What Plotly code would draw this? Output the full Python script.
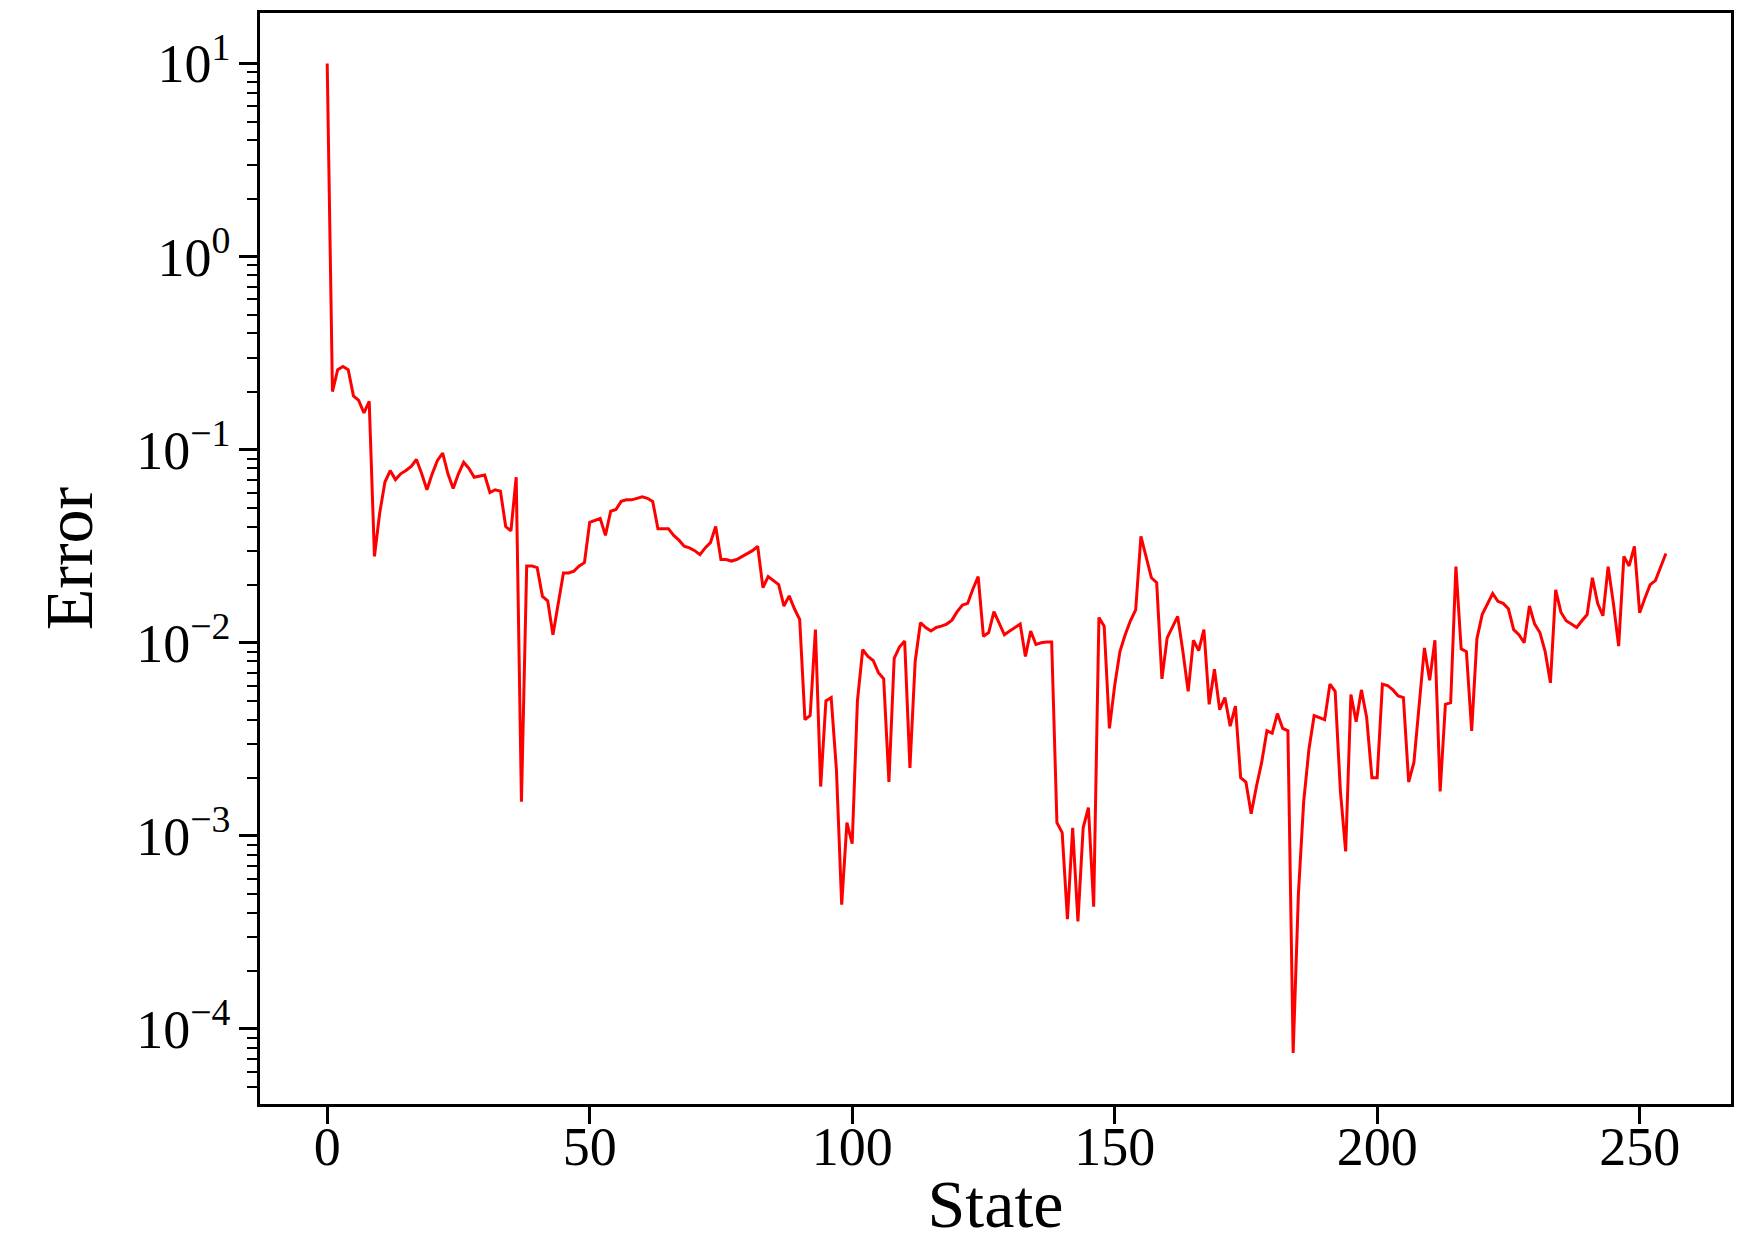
import plotly.graph_objects as go

states = list(range(256))
errors = [
    10, 0.2, 0.26, 0.27, 0.26, 0.19, 0.18, 0.155, 0.178, 0.028,
    0.047, 0.068, 0.078, 0.07, 0.075, 0.078, 0.082, 0.089, 0.075, 0.062,
    0.075, 0.088, 0.096, 0.075, 0.063, 0.075, 0.086, 0.08, 0.072, 0.073,
    0.074, 0.06, 0.062, 0.061, 0.040, 0.038, 0.072, 0.0015, 0.025, 0.025,
    0.0245, 0.0174, 0.0165, 0.011, 0.016, 0.023, 0.023, 0.0235, 0.025, 0.026,
    0.042, 0.043, 0.044, 0.036, 0.048, 0.049, 0.054, 0.055, 0.055, 0.056,
    0.057, 0.056, 0.054, 0.039, 0.039, 0.039, 0.036, 0.034, 0.0316, 0.031,
    0.030, 0.0286, 0.031, 0.033, 0.040, 0.027, 0.027, 0.0265, 0.027, 0.028,
    0.029, 0.030, 0.0316, 0.0193, 0.022, 0.021, 0.020, 0.0155, 0.0175, 0.0150,
    0.0132, 0.004, 0.0042, 0.0117, 0.0018, 0.005, 0.0052, 0.0022, 0.00044, 0.00117,
    0.00091, 0.005, 0.0092, 0.0085, 0.0081, 0.007, 0.0065, 0.0019, 0.0083, 0.0095,
    0.0102, 0.00225, 0.008, 0.0127, 0.012, 0.0115, 0.012, 0.0122, 0.0125, 0.0131,
    0.0145, 0.0157, 0.016, 0.019, 0.022, 0.0108, 0.0113, 0.0145, 0.0125, 0.011,
    0.0115, 0.012, 0.0125, 0.0085, 0.0115, 0.0098, 0.0100, 0.0101, 0.0101, 0.00117,
    0.00104, 0.00037, 0.0011, 0.00036, 0.0011, 0.0014, 0.00043, 0.0135, 0.0122, 0.0036,
    0.006, 0.009, 0.011, 0.013, 0.0148, 0.0356, 0.028, 0.0217, 0.0205, 0.0065,
    0.0106, 0.012, 0.0137, 0.009, 0.0056, 0.0103, 0.0091, 0.0117, 0.0048, 0.0073,
    0.0045, 0.0052, 0.0037, 0.0047, 0.002, 0.0019, 0.0013, 0.0018, 0.0024, 0.0035,
    0.0034, 0.0043, 0.0036, 0.0035, 0.000075, 0.0005, 0.0015, 0.0028, 0.0042, 0.0041,
    0.004, 0.0061, 0.0056, 0.0017, 0.00083, 0.0054, 0.0039, 0.0057, 0.0041, 0.002,
    0.002, 0.0061, 0.006, 0.0057, 0.0053, 0.0052, 0.0019, 0.0024, 0.005, 0.0094,
    0.0064, 0.0103, 0.0017, 0.0048, 0.0049, 0.0248, 0.0093, 0.009, 0.0035, 0.0105,
    0.014, 0.016, 0.018, 0.0164, 0.016, 0.015, 0.0117, 0.011, 0.010, 0.0155,
    0.0125, 0.0113, 0.009, 0.0062, 0.0188, 0.0144, 0.013, 0.0125, 0.012, 0.013,
    0.014, 0.0217, 0.016, 0.0138, 0.0248, 0.016, 0.0096, 0.028, 0.025, 0.0316,
    0.0143, 0.017, 0.02, 0.021, 0.025, 0.029,
]

x_ticks = [0, 50, 100, 150, 200, 250]
y_ticks = [10, 1, 0.1, 0.01, 0.001, 0.0001]
y_tick_text = ["10<sup>1</sup>", "10<sup>0</sup>", "10<sup>\u22121</sup>",
               "10<sup>\u22122</sup>", "10<sup>\u22123</sup>", "10<sup>\u22124</sup>"]

FONT = "Liberation Serif, Times New Roman, serif"

fig = go.Figure()
fig.add_trace(go.Scatter(x=states, y=errors, mode="lines",
                         line=dict(color="#ff0000", width=3),
                         showlegend=False))

fig.update_layout(
    width=1757, height=1244,
    margin=dict(l=260, r=26, t=13, b=140),
    paper_bgcolor="white", plot_bgcolor="white",
    font=dict(family=FONT, color="black", size=52),
)
fig.update_xaxes(
    range=[-12.8, 267.4], automargin=False,
    tickvals=x_ticks, ticktext=[str(v) for v in x_ticks],
    ticks="outside", ticklen=17, tickwidth=2.5, tickcolor="black",
    ticklabelstandoff=-24,
    showline=True, linecolor="black", linewidth=2.7, mirror=True,
    showgrid=False, zeroline=False,
    tickfont=dict(family=FONT, size=54),
    title=dict(text="State", font=dict(family=FONT, size=68), standoff=4),
)
fig.update_yaxes(
    type="log", range=[-4.389, 1.262], automargin=False,
    tickvals=y_ticks, ticktext=y_tick_text,
    ticks="outside", ticklen=18, tickwidth=2.5, tickcolor="black",
    ticklabelstandoff=-2,
    minor=dict(ticks="outside", ticklen=10, tickwidth=1.8, tickcolor="black",
               showgrid=False, dtick="D1"),
    showline=True, linecolor="black", linewidth=2.7, mirror=True,
    showgrid=False, zeroline=False,
    tickfont=dict(family=FONT, size=54),
    title=dict(text="Error", font=dict(family=FONT, size=68), standoff=22),
)

fig.write_html("out.html")
